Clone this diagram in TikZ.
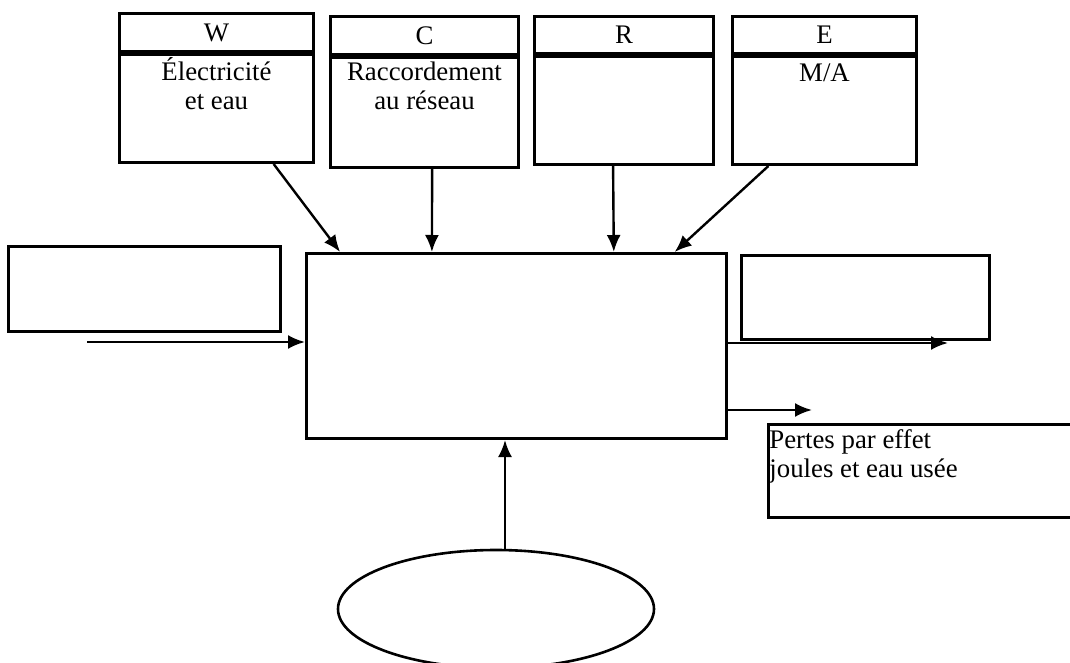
\documentclass[tikz,border=0pt]{standalone}
\usepackage{fontspec}
\setmainfont{Liberation Serif}
\usetikzlibrary{arrows.meta,positioning,calc,shapes.geometric}

\begin{document}
\begin{tikzpicture}[x=0.5pt,y=-0.5pt,>={Latex[length=8.5pt,width=7pt]},
  box/.style={draw,line width=1.5pt,inner sep=0pt,anchor=north west},
  txt/.style={inner sep=0pt,align=center},
  flow/.style={->,line width=1.2pt},
  every node/.style={font=\fontsize{13.4}{14.5}\selectfont}]
  \useasboundingbox (0,0) rectangle (1070,663);

  % boites du haut
  \node[box,minimum width=97pt,minimum height=19pt] (Whead) at (118,12) {W};
  \node[box,minimum width=97pt,minimum height=54pt] (Wbody) at (Whead.south west) {};
  \node[box,minimum width=94pt,minimum height=19pt] (Chead) at (329,15) {C};
  \node[box,minimum width=94pt,minimum height=55pt] (Cbody) at (Chead.south west) {};
  \node[box,minimum width=89.5pt,minimum height=18.5pt] (Rhead) at (533,15) {R};
  \node[box,minimum width=89.5pt,minimum height=54pt] (Rbody) at (Rhead.south west) {};
  \node[box,minimum width=92pt,minimum height=18.5pt] (Ehead) at (731,15) {E};
  \node[box,minimum width=92pt,minimum height=54pt] (Ebody) at (Ehead.south west) {};

  \node[txt,below=2pt of Whead] (Wtxt) {Électricité\\et eau};
  \node[txt,below=3pt of Chead] (Ctxt) {Raccordement\\au réseau};
  \node[txt,below=4pt of Ehead] (Etxt) {M/A};

  % boites du milieu
  \node[box,minimum width=210pt,minimum height=92.5pt] (main) at (305,252) {};
  \node[box,minimum width=136pt,minimum height=42.5pt] (input) at (7,245) {};
  \node[box,minimum width=124pt,minimum height=42pt] (output) at (740,254) {};
  \node[box,minimum width=155pt,minimum height=46.5pt] (losses) at (767,423) {};
  \node[anchor=north west,inner sep=1pt,align=left] (losstxt) at (767,427)
    {Pertes par effet\\joules et eau usée};

  \node[draw,ellipse,line width=1.3pt,minimum width=158pt,minimum height=59pt]
    (source) at (496,609) {};

  \coordinate (in) at (87,342);
  \coordinate (out1) at (948,343);
  \coordinate (out2) at (812,410);
  \coordinate (srctop) at ($(source.north)+(9,0)$);

  % fleches
  \draw[flow] ($(Wbody.south west)!0.79!(Wbody.south east)$) -- ($(main.north west)!0.083!(main.north east)$);
  \draw[flow] ($(Cbody.south west)!0.54!(Cbody.south east)$) -- ($(main.north west)!0.30!(main.north east)$);
  \draw[flow] ($(Rbody.south west)!0.44!(Rbody.south east)$) -- ($(main.north west)!0.73!(main.north east)$);
  \draw[flow] ($(Ebody.south west)!0.2!(Ebody.south east)$) -- ($(main.north west)!0.874!(main.north east)$);
  \draw[flow] (in) -- (in -| main.west);
  \draw[flow] (out1 -| main.east) -- (out1);
  \draw[flow] (out2 -| main.east) -- (out2);
  \draw[flow] (srctop) -- (srctop |- main.south);
\end{tikzpicture}
\end{document}
